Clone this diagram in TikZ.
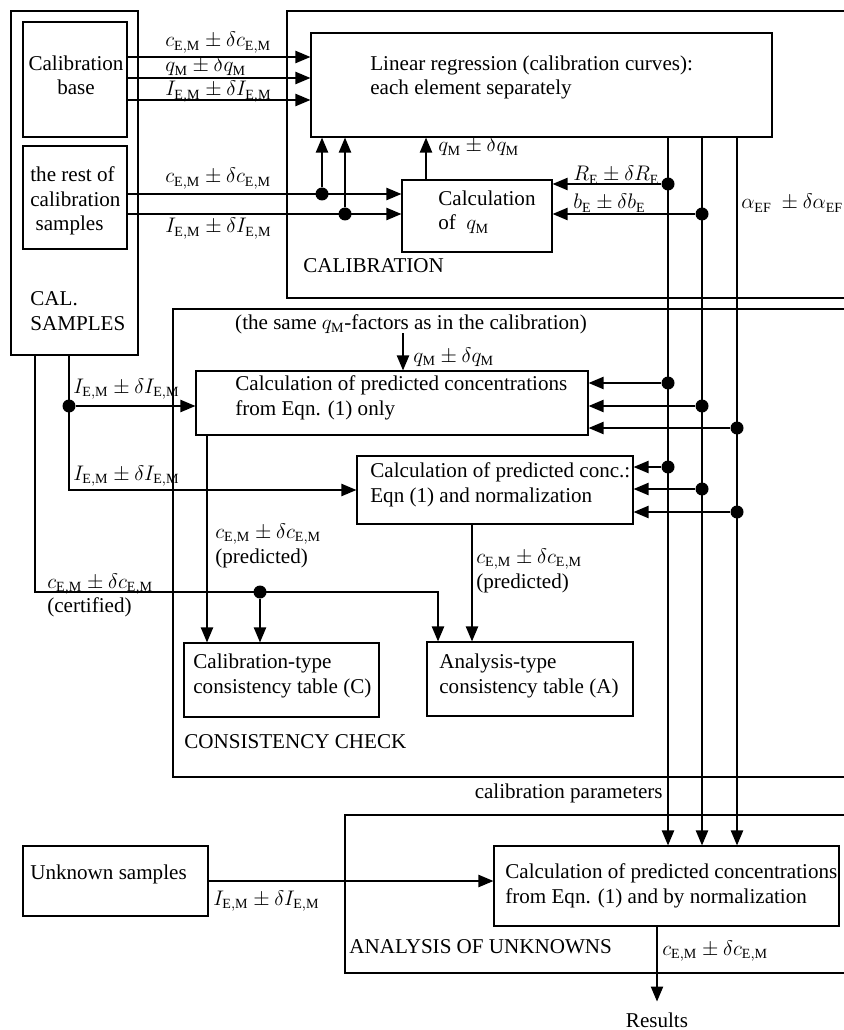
\documentclass[tikz,border=0pt]{standalone}
\usepackage{fontspec}
\setmainfont{Liberation Serif}
\usetikzlibrary{arrows.meta,fit,calc}

\newcommand{\subEM}{\mathrm{E{,}M}}
\newcommand{\pmval}[2]{$#1_{#2}\pm\delta #1_{#2}$}

\begin{document}
\begin{tikzpicture}[x=0.02cm,y=-0.02cm,
  font=\fontsize{12}{14.2}\selectfont,
  box/.style={draw,line width=0.7pt,inner sep=0pt},
  area/.style={draw,line width=1.5pt,inner sep=0pt},
  flow/.style={line width=0.7pt,-{Triangle[length=8.5pt,width=7pt]}},
  dot/.style={circle,fill,inner sep=0pt,minimum size=7.4pt},
  txt/.style={anchor=base west,inner sep=0pt,align=left}]

\useasboundingbox (0,0) rectangle (844,1030);
\clip (0,0) rectangle (844,1030);

% the four big areas
\node[area,fit={(11,11) (138,355)}] (calsamp) {};
\node[area,fit={(287,11) (860,298)}] (calib) {};
\node[area,fit={(173,309) (860,777)}] (check) {};
\node[area,fit={(345,815) (860,973)}] (analysis) {};

% boxes
\node[box,fit={(23,22) (127,137)}] (calbase) {};
\node[box,fit={(23,146) (127,249)}] (calrest) {};
\node[box,fit={(311,33) (772,137)}] (regr) {};
\node[box,fit={(402,180) (552,252)}] (calcq) {};
\node[box,fit={(196,371) (588,435)}] (pred1) {};
\node[box,fit={(357,456) (633,524)}] (pred2) {};
\node[box,fit={(184,643) (379,717)}] (tabC) {};
\node[box,fit={(427,642) (633,716)}] (tabA) {};
\node[box,fit={(23,846) (208,916)}] (unknown) {};
\node[box,fit={(494,846) (839,926)}] (predU) {};

% texts in the boxes (base = last line)
\node[txt,align=center,anchor=base] at (76,95) {Calibration\\base};
\node[txt] at (30,231) {the rest of\\calibration\\\hspace{3pt}samples};
\node[txt] at (30,330) {CAL.\\SAMPLES};
\node[txt] at (370,95) {Linear regression (calibration curves):\\each element separately};
\node[txt] at (438,230) {Calculation\\of~~$q_{\mathrm{M}}$};
\node[txt] at (303,273) {CALIBRATION};
\node[txt,anchor=base] (same) at (411,329) {(the same $q_{\mathrm{M}}$-factors as in the calibration)};
\node[txt] at (235,415) {Calculation of predicted concentrations\\from Eqn. (1) only};
\node[txt] at (370,502) {Calculation of predicted conc.:\\Eqn (1) and normalization};
\node[txt] at (193,693) {Calibration-type\\consistency table (C)};
\node[txt] at (439,693) {Analysis-type\\consistency table (A)};
\node[txt] at (184,748) {CONSISTENCY CHECK};
\node[txt,anchor=base east] at (663,798) {calibration parameters};
\node[txt] at (30,879) {Unknown samples};
\node[txt] at (505,903) {Calculation of predicted concentrations\\from Eqn. (1) and by normalization};
\node[txt] at (349,953) {ANALYSIS OF UNKNOWNS};
\node[anchor=base,inner sep=6pt] (results) at (657,1027) {Results};

% calibration base -> regression
\foreach \yy in {57,78,100}
  \draw[flow] (calbase.east |- 0,\yy) -- (regr.west |- 0,\yy);
\node[txt] at (165,47) {\pmval{c}{\subEM}};
\node[txt] at (165,72) {\pmval{q}{\mathrm{M}}};
\node[txt] at (165,96) {\pmval{I}{\subEM}};

% rest of calibration samples
\node[dot] (dc) at (322,194) {};
\node[dot] (dI) at (345,214) {};
\draw[flow] (calrest.east |- dc) -- (calcq.west |- dc);
\draw[flow] (calrest.east |- dI) -- (calcq.west |- dI);
\draw[flow] (dc) -- (dc |- regr.south);
\draw[flow] (dI) -- (dI |- regr.south);
\node[txt] at (165,183) {\pmval{c}{\subEM}};
\node[txt] at (165,233) {\pmval{I}{\subEM}};

% q_M back to the regression
\coordinate (qup) at (426,0);
\draw[flow] (calcq.north -| qup) -- (regr.south -| qup);
\node[txt] at (438,152) {\pmval{q}{\mathrm{M}}};

% calibration parameters
\coordinate (busR) at (668,0);
\coordinate (busb) at (702,0);
\coordinate (busa) at (737,0);
\foreach \b in {busR,busb,busa}
  \draw[flow] (regr.south -| \b) -- (predU.north -| \b);
\node[dot] (dR) at (668,184) {};
\node[dot] (db) at (702,214) {};
\draw[flow] (dR) -- (calcq.east |- dR);
\draw[flow] (db) -- (calcq.east |- db);
\node[txt] at (573,181) {\pmval{R}{\mathrm{E}}};
\node[txt] at (573,209) {\pmval{b}{\mathrm{E}}};
\node[txt] at (741,209) {$\alpha_{\mathrm{EF}}\ \pm\delta\alpha_{\mathrm{EF}}$};

\foreach \bx/\yy/\nm in {668/383/pa, 702/406/pb, 737/428/pc} {
  \node[dot] (\nm) at (\bx,\yy) {};
  \draw[flow] (\nm) -- (pred1.east |- \nm);
}
\foreach \bx/\yy/\nm in {668/467/qa, 702/489/qb, 737/512/qc} {
  \node[dot] (\nm) at (\bx,\yy) {};
  \draw[flow] (\nm) -- (pred2.east |- \nm);
}

% same q_M factors
\coordinate (qdrop) at (403,333);
\draw[flow] (qdrop) -- (qdrop |- pred1.north);
\node[txt] at (413,362) {\pmval{q}{\mathrm{M}}};

% cal. samples -> consistency check
\coordinate (sI) at (69,0);
\coordinate (cA) at (438,592);
\node[dot] (dI1) at (69,406) {};
\draw[flow] (calsamp.south -| sI) |- (pred2.west);
\draw[flow] (dI1) -- (pred1.west |- dI1);
\node[txt] at (73,393) {\pmval{I}{\subEM}};
\node[txt] at (73,480) {\pmval{I}{\subEM}};

\draw[flow] (calsamp.south -| 35,0) |- (cA) -- (cA |- tabA.north);
\node[dot] (dcert) at (260,592) {};
\draw[flow] (dcert) -- (dcert |- tabC.north);
\node[txt] at (47,588) {\pmval{c}{\subEM}};
\node[txt] at (47,612) {(certified)};

\coordinate (p1out) at (207,0);
\coordinate (p2out) at (472,0);
\draw[flow] (pred1.south -| p1out) -- (tabC.north -| p1out);
\draw[flow] (pred2.south -| p2out) -- (tabA.north -| p2out);
\node[txt] at (215,563) {\pmval{c}{\subEM}\\(predicted)};
\node[txt] at (476,588) {\pmval{c}{\subEM}\\(predicted)};

% unknowns
\draw[flow] (unknown.east) -- (unknown.east -| predU.west);
\node[txt] at (213,905) {\pmval{I}{\subEM}};
\draw[flow] (predU.south -| results) -- (results);
\node[txt] at (662,955) {\pmval{c}{\subEM}};

\end{tikzpicture}
\end{document}
